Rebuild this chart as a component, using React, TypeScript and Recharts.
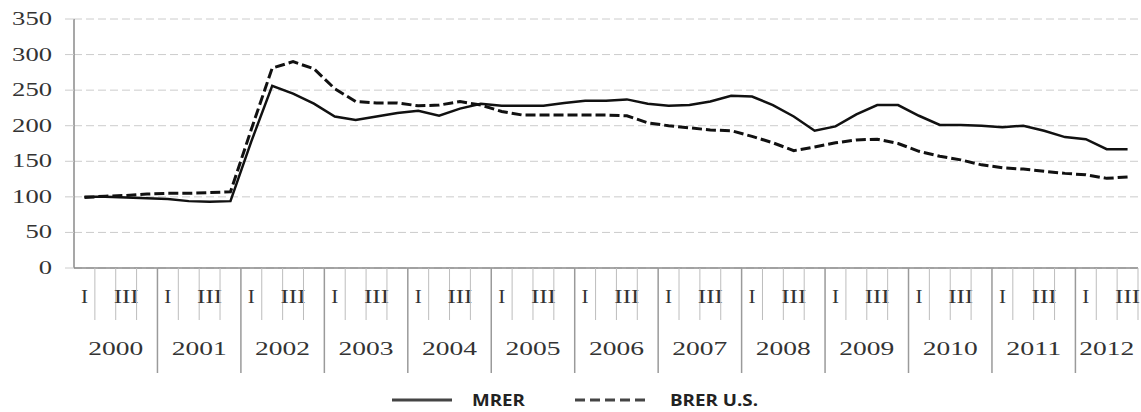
import React from "react";
import { ComposedChart, Line, XAxis, YAxis, CartesianGrid, Legend } from "recharts";

const years: number[] = [2000, 2001, 2002, 2003, 2004, 2005, 2006, 2007, 2008, 2009, 2010, 2011, 2012];
const quarterNames: string[] = ["I", "II", "III", "IV"];
const quarterLabels: string[] = ["I", "", "III", ""];
const yTicks: number[] = [0, 50, 100, 150, 200, 250, 300, 350];

const mrer: number[] = [
  100, 100, 99, 98, 97, 94, 93, 94,
  178, 256, 245, 231, 213, 208, 213, 218,
  221, 214, 224, 231, 228, 228, 228, 232,
  235, 235, 237, 231, 228, 229, 234, 242,
  241, 229, 213, 193, 199, 216, 229, 229,
  214, 201, 201, 200, 198, 200, 193, 184,
  181, 167, 167,
];
const brer: number[] = [
  99, 101, 102, 104, 105, 105, 106, 107,
  195, 281, 290, 280, 252, 234, 232, 232,
  228, 229, 234, 229, 220, 215, 215, 215,
  215, 215, 214, 204, 200, 197, 194, 193,
  185, 176, 165, 170, 176, 180, 181, 175,
  164, 157, 152, 145, 141, 139, 136, 133,
  131, 126, 128,
];

const quarters: string[] = years
  .flatMap((y) => quarterNames.map((q) => `${y} ${q}`))
  .slice(0, mrer.length);

const data = quarters.map((q, i) => ({ q, mrer: mrer[i], brer: brer[i] }));

const CHART_W = 1141;
const CHART_H = 412;
const Y_W = 74;
const M_RIGHT = 3;
const PLOT_W = CHART_W - Y_W - M_RIGHT;
const BAND = PLOT_W / quarters.length;
const SERIF = "'Liberation Serif', 'Times New Roman', serif";

const YTick = (props: any) => {
  const { x, y, payload } = props;
  const s = String(payload.value);
  return (
    <text x={x} y={y + 6} textAnchor="end" fontFamily={SERIF} fontSize={18} fill="#333"
      textLength={s.length * 13.3} lengthAdjust="spacingAndGlyphs">
      {s}
    </text>
  );
};

const XTick = (props: any) => {
  const { x, y, index } = props;
  const q = index % 4;
  const left = x - BAND / 2;
  const yearStart = q === 0;
  const lab = quarterLabels[q];
  const yearIdx = Math.floor(index / 4);
  const inYear = Math.min(4, quarters.length - yearIdx * 4);
  const isLast = index === quarters.length - 1;
  return (
    <g>
      {index > 0 && (
        <line x1={left} x2={left} y1={y} y2={y + (yearStart ? 105 : 52)}
          stroke={yearStart ? "#9a9a9a" : "#bdbdbd"} strokeWidth={yearStart ? 1.5 : 1} />
      )}
      {isLast && (
        <line x1={x + BAND / 2} x2={x + BAND / 2} y1={y} y2={y + 52} stroke="#bdbdbd" strokeWidth={1} />
      )}
      {lab && (
        <text x={x} y={y + 35} textAnchor="middle" fontFamily={SERIF} fontSize={18} fill="#333"
          textLength={lab.length === 1 ? 7 : 25} lengthAdjust="spacingAndGlyphs">
          {lab}
        </text>
      )}
      {yearStart && (
        <text x={left + (inYear * BAND) / 2} y={y + 87} textAnchor="middle" fontFamily={SERIF} fontSize={18}
          fill="#333" textLength={55} lengthAdjust="spacingAndGlyphs">
          {String(years[yearIdx])}
        </text>
      )}
    </g>
  );
};

const legendLayout: Record<string, { lineX: number; lineW: number; textX: number; textW: number }> = {
  MRER: { lineX: 392, lineW: 60, textX: 472, textW: 53 },
  "BRER U.S.": { lineX: 575, lineW: 72, textX: 670, textW: 88 },
};

const LegendContent = (props: any) => {
  const { payload } = props;
  return (
    <svg width={1141} height={24} style={{ display: "block" }}>
      {(payload || []).map((e: any, i: number) => {
        const L = legendLayout[e.value];
        if (!L) return null;
        const dash = e.payload && e.payload.strokeDasharray;
        return (
          <g key={i}>
            <line x1={L.lineX} x2={L.lineX + L.lineW} y1={12} y2={12} stroke="#444" strokeWidth={3}
              strokeDasharray={dash ? "10 5" : undefined} />
            <text x={L.textX} y={18} fontFamily="'Open Sans', 'Liberation Sans', sans-serif" fontWeight={700}
              fontSize={16} fill="#222" textLength={L.textW} lengthAdjust="spacingAndGlyphs">
              {e.value}
            </text>
          </g>
        );
      })}
    </svg>
  );
};

export default function App() {
  return (
    <div style={{ position: "absolute", left: 0, top: 0, width: 1141, height: 412, overflow: "hidden", background: "#fff" }}>
      <ComposedChart width={CHART_W} height={CHART_H} data={data}
        margin={{ top: 19, right: M_RIGHT, bottom: 0, left: 0 }}>
        <CartesianGrid vertical={false} stroke="#cccccc" strokeDasharray="8 4" />
        <XAxis dataKey="q" scale="band" interval={0} tickLine={false} tickSize={0} tickMargin={0}
          height={144} stroke="#8a8a8a" strokeWidth={1.5} tick={<XTick />} />
        <YAxis domain={[0, 350]} ticks={yTicks} width={Y_W} tickSize={9} tickMargin={13}
          stroke="#8a8a8a" strokeWidth={1.5} tickLine={{ stroke: "#cccccc", strokeWidth: 1 }}
          tick={<YTick />} interval={0} />
        <Legend content={<LegendContent />} wrapperStyle={{ position: "absolute", left: 0, top: 388, width: 1141, height: 0 }} />
        <Line dataKey="mrer" name="MRER" type="linear" stroke="#111" strokeWidth={2.5} dot={false}
          isAnimationActive={false} />
        <Line dataKey="brer" name="BRER U.S." type="linear" stroke="#111" strokeWidth={3} strokeDasharray="10 4"
          dot={false} isAnimationActive={false} />
      </ComposedChart>
    </div>
  );
}
